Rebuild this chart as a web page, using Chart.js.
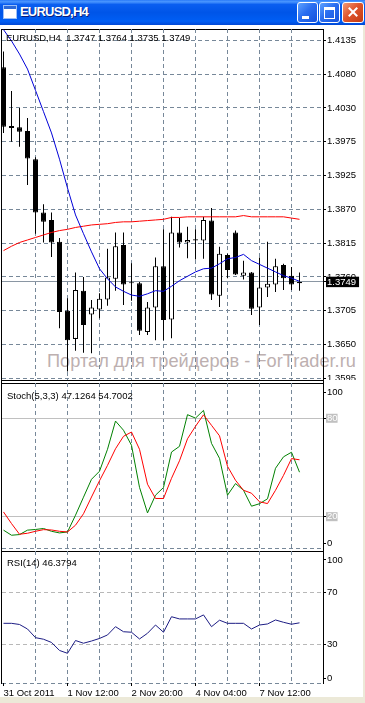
<!DOCTYPE html>
<html>
<head>
<meta charset="utf-8">
<script src="https://cdn.jsdelivr.net/npm/chart.js@4.4.0/dist/chart.umd.min.js"></script>
<style>
  body { margin: 0; width: 365px; height: 703px; background: #ece9d8; position: relative; overflow: hidden; font-family: 'Liberation Sans', Arial, sans-serif; }
  #win { position: absolute; left: 0; top: 25px; width: 363px; height: 672px; background: #fff; }
  #titlebar { position: absolute; left: 0; top: 0; width: 365px; height: 25px;
    background: linear-gradient(to bottom, #2a7af8 0%, #4b97ff 7%, #0a5ef0 18%, #0055e8 50%, #005ef4 85%, #0047d4 100%); }
  #icon { position: absolute; left: 3px; top: 5px; width: 12px; height: 12px; background: #fff; border: 1px solid #9cc0f8; }
  #icon:before { content: ''; position: absolute; left: 0; top: 0; width: 12px; height: 3px; background: #2d6ad8; }
  #wintitle { position: absolute; left: 20px; top: 4px; font: bold 13px 'Liberation Sans', Arial, sans-serif; letter-spacing: -0.8px; color: #fff; text-shadow: 1px 1px 0 #0a1d7c; }
  .btn { position: absolute; top: 2px; width: 19px; height: 19px; border: 1px solid #fff; border-radius: 3px;
    background: linear-gradient(135deg, #5fa2ff 0%, #2a6ef0 45%, #1552dc 100%); }
  #bmin { left: 297px; } #bmax { left: 319px; }
  #bclose { left: 342px; width: 20px; background: linear-gradient(135deg, #f09a78 0%, #e0552c 45%, #c23a12 100%); }
  #bmin i { position: absolute; left: 4px; top: 13px; width: 7px; height: 3px; background: #fff; }
  #bmax i { position: absolute; left: 4px; top: 4px; width: 9px; height: 8px; border: 1px solid #fff; border-top-width: 3px; }
  #bclose i, #bclose b { position: absolute; left: 4px; top: 8px; width: 12px; height: 2px; background: #fff; }
  #bclose i { transform: rotate(45deg); } #bclose b { transform: rotate(-45deg); }
  .ln { position: absolute; background: #000; }
  .dash { position: absolute; height: 1px; background: repeating-linear-gradient(to right, #778899 0 4px, transparent 4px 7px); }
  #wm { position: absolute; left: 47px; top: 351px; font-size: 18.2px; line-height: 20px; color: #bdb0b0; white-space: pre; }
  canvas { position: absolute; left: 0; }
  .lbl { position: absolute; font-size: 9.5px; line-height: 11px; white-space: pre; color: #000; }
</style>
</head>
<body>
<div id="titlebar">
  <div id="icon"></div>
  <div id="wintitle">EURUSD,H4</div>
  <div class="btn" id="bmin"><i></i></div>
  <div class="btn" id="bmax"><i></i></div>
  <div class="btn" id="bclose"><i></i><b></b></div>
</div>
<div id="win"></div>
<div id="wm">Портал для трейдеров - ForTrader.ru</div>

<!-- panel frames -->
<div class="ln" style="left:1px; top:29px; width:1px; height:655px;"></div>
<div class="ln" style="left:323px; top:29px; width:1px; height:655px;"></div>
<div class="ln" style="left:1px; top:29px; width:323px; height:1px;"></div>
<div class="ln" style="left:1px; top:380px; width:323px; height:1px;"></div>
<div class="ln" style="left:1px; top:383px; width:323px; height:1px;"></div>
<div class="dash" style="left:2px; top:548px; width:321px;"></div>
<div class="ln" style="left:1px; top:551px; width:323px; height:1px;"></div>
<div class="dash" style="left:2px; top:683px; width:321px;"></div>

<canvas id="main" width="363" height="351" style="top:29px;"></canvas>
<canvas id="stoch" width="363" height="166" style="top:383px;"></canvas>
<canvas id="rsi" width="363" height="152" style="top:551px;"></canvas>

<div class="lbl" id="mainLbl" style="left:6px; top:32px;"></div>
<div class="lbl" id="stochLbl" style="left:7px; top:390px;"></div>
<div class="lbl" id="rsiLbl" style="left:7px; top:557px;"></div>

<script>
// EURUSD H4, one entry per bar (oldest first)
const opens  = [1.4092, 1.3998, 1.3996, 1.3990, 1.3945, 1.3860, 1.3848, 1.3813, 1.3703, 1.3658,
                1.3735, 1.3697, 1.3705, 1.3721, 1.3754, 1.3808, 1.3748, 1.3747, 1.3669, 1.3708,
                1.3774, 1.3689, 1.3828, 1.3812, 1.3817, 1.3815, 1.3847, 1.3727, 1.3792, 1.3828,
                1.3759, 1.3764, 1.3708, 1.3740, 1.3745, 1.3776, 1.3759, 1.3747];
const highs  = [1.4117, 1.4054, 1.4027, 1.4011, 1.3948, 1.3873, 1.3860, 1.3819, 1.3723, 1.3764,
                1.3757, 1.3720, 1.3731, 1.3802, 1.3828, 1.3828, 1.3779, 1.3749, 1.3717, 1.3788,
                1.3833, 1.3853, 1.3851, 1.3837, 1.3833, 1.3853, 1.3867, 1.3805, 1.3794, 1.3831,
                1.3783, 1.3765, 1.3788, 1.3813, 1.3786, 1.3778, 1.3773, 1.3764];
const lows   = [1.3987, 1.3973, 1.3965, 1.3904, 1.3826, 1.3812, 1.3789, 1.3675, 1.3606, 1.3639,
                1.3636, 1.3635, 1.3691, 1.3711, 1.3735, 1.3712, 1.3719, 1.3664, 1.3664, 1.3656,
                1.3656, 1.3659, 1.3804, 1.3787, 1.3785, 1.3786, 1.3720, 1.3709, 1.3755, 1.3760,
                1.3753, 1.3696, 1.3680, 1.3725, 1.3733, 1.3736, 1.3736, 1.3735];
const closes = [1.3997, 1.3995, 1.3989, 1.3946, 1.3860, 1.3845, 1.3812, 1.3701, 1.3656, 1.3736,
                1.3680, 1.3708, 1.3722, 1.3756, 1.3806, 1.3745, 1.3747, 1.3671, 1.3708, 1.3774,
                1.3688, 1.3828, 1.3812, 1.3816, 1.3815, 1.3848, 1.3729, 1.3794, 1.3768, 1.3761,
                1.3764, 1.3706, 1.3740, 1.3746, 1.3774, 1.3755, 1.3745, 1.3749];
// moving averages (blue fast, red slow)
const maFast = [1.4152, 1.4134, 1.4113, 1.4089, 1.4055, 1.4021, 1.3987, 1.3945, 1.3899, 1.3856,
                1.3826, 1.3797, 1.3770, 1.3754, 1.3741, 1.3734, 1.3728, 1.3726, 1.3730, 1.3735,
                1.3734, 1.3742, 1.3751, 1.3758, 1.3765, 1.3770, 1.3771, 1.3778, 1.3786, 1.3788,
                1.3793, 1.3783, 1.3777, 1.3771, 1.3765, 1.3759, 1.3755, 1.3750];
const maSlow = [1.3799, 1.3806, 1.3812, 1.3816, 1.3820, 1.3824, 1.3828, 1.3831, 1.3833, 1.3836,
                1.3838, 1.3840, 1.3841, 1.3842, 1.3844, 1.3845, 1.3845, 1.3846, 1.3847, 1.3848,
                1.3849, 1.3852, 1.3852, 1.3853, 1.3853, 1.3853, 1.3853, 1.3853, 1.3853, 1.3853,
                1.3855, 1.3853, 1.3853, 1.3853, 1.3853, 1.3853, 1.3851, 1.3849];
// Stochastic(5,3,3): main and signal
const stochMain = [11.8, 8.7, 9.1, 11.8, 12.2, 12.8, 11.1, 10.1, 10.7, 20.9,
                   31.9, 42.8, 47.7, 61.1, 78.3, 72.7, 63.5, 37.9, 22.3, 33.1,
                   37.8, 59.4, 62.9, 82.2, 80.1, 84.8, 64.7, 55.6, 33.1, 40.2,
                   36.1, 26.4, 27.9, 30.9, 49.5, 56.5, 59.3, 47.1264];
const stochSignal = [22.9, 15.8, 9.3, 9.9, 11.1, 12.1, 11.9, 11.1, 10.7, 14.8,
                     21.8, 32.0, 41.9, 51.3, 61.4, 69.0, 71.6, 61.1, 39.8, 31.1,
                     31.1, 43.4, 54.1, 67.5, 75.1, 82.1, 75.7, 69.3, 50.7, 42.2,
                     36.1, 34.3, 29.1, 28.0, 36.1, 45.2, 55.4, 54.7002];
// RSI(14)
const rsi = [46.0, 46.0, 45.1, 41.6, 34.9, 33.7, 31.2, 25.0, 22.8, 32.7,
             30.6, 32.3, 34.3, 37.0, 43.4, 39.5, 39.1, 33.9, 38.3, 44.7,
             39.1, 51.1, 49.4, 49.4, 49.4, 52.5, 43.4, 48.4, 46.0, 46.0,
             46.0, 41.6, 44.7, 45.5, 48.6, 46.8, 45.3, 46.3794];

// axis ticks
const priceGrid   = [1.3595, 1.3649, 1.3703, 1.3757, 1.3811, 1.3865, 1.3919, 1.3973, 1.4027, 1.4081, 1.4135];
const priceLabels = ['1.3595', '1.3650', '1.3705', '1.3760', '1.3815', '1.3870', '1.3925', '1.3975', '1.4030', '1.4080', '1.4135'];
const stochTicks  = [96.0, 80, 20, 3.7];
const stochLabels = ['100', '80', '20', '0'];
const rsiTicks    = [95.0, 70, 30, 3.5];
const rsiLabels   = ['100', '70', '30', '0'];
const gridBars    = [4, 8, 12, 16, 20, 24, 28, 32, 36];
const timeBars    = [0, 8, 16, 24, 32];
const timeLabels  = ['31 Oct 2011', '1 Nov 12:00', '2 Nov 20:00', '4 Nov 04:00', '7 Nov 12:00'];

const last = opens.length - 1;
const lastClose = closes[last];

document.getElementById('mainLbl').textContent =
  'EURUSD,H4  ' + [opens[last], highs[last], lows[last], closes[last]].map(v => v.toFixed(4)).join(' ');
document.getElementById('stochLbl').textContent =
  'Stoch(5,3,3) ' + stochMain[last].toFixed(4) + ' ' + stochSignal[last].toFixed(4);
document.getElementById('rsiLbl').textContent = 'RSI(14) ' + rsi[last].toFixed(4);

Chart.defaults.font.family = "'Liberation Sans', Arial, sans-serif";
Chart.defaults.font.size = 9.5;
Chart.defaults.color = '#000';

const GRID = '#778899';
const DASH = [4, 3];
const NONE = 'rgba(0,0,0,0)';
const xMin = -0.1875, xMax = 39.9375;

const pts = arr => arr.map((v, i) => ({ x: i, y: v }));

function fixY(s) { s.width = 40; s.paddingTop = 0; s.paddingBottom = 0; }

function hiddenX() {
  return {
    type: 'linear', min: xMin, max: xMax, offset: false, bounds: 'data',
    afterBuildTicks: s => { s.ticks = gridBars.map(v => ({ value: v })); },
    afterFit: s => { s.height = 0; s.paddingLeft = 0; s.paddingRight = 0; },
    grid: { color: GRID, offset: false, drawTicks: false },
    border: { display: false, dash: DASH },
    ticks: { display: false }
  };
}

const baseOpts = {
  responsive: false,
  animation: false,
  events: [],
  layout: { padding: { left: 2, right: 0, top: 0, bottom: 0 } },
  plugins: { legend: { display: false }, tooltip: { enabled: false } }
};

function lineSet(data, color, order) {
  return { type: 'line', data: pts(data), borderColor: color, borderWidth: 1, pointRadius: 0, tension: 0, order: order };
}

// price panel
const isLast = c => !!(c.tick && c.index === priceGrid.length);
new Chart(document.getElementById('main'), {
  type: 'bar',
  data: {
    datasets: [
      lineSet(maFast, '#0000d8', 0),
      lineSet(maSlow, '#ff0000', 0),
      {
        label: 'wick', data: lows.map((l, i) => ({ x: i, y: [l, highs[i]] })),
        backgroundColor: '#000', barThickness: 1, grouped: false, order: 2, inflateAmount: 0
      },
      {
        label: 'body', data: opens.map((o, i) => ({ x: i, y: [o, closes[i]] })),
        backgroundColor: opens.map((o, i) => closes[i] > o ? '#fff' : '#000'),
        borderColor: '#000', borderWidth: 1, borderSkipped: false, minBarLength: 1,
        barThickness: 5, grouped: false, order: 1, inflateAmount: 0
      }
    ]
  },
  options: Object.assign({}, baseOpts, {
    scales: {
      x: hiddenX(),
      y: {
        type: 'linear', position: 'right', min: 1.35923, max: 1.415305, bounds: 'data',
        afterBuildTicks: s => { s.ticks = priceGrid.map(v => ({ value: v })).concat([{ value: lastClose }]); },
        afterFit: fixY,
        grid: { color: c => isLast(c) ? '#8a96a3' : GRID, tickColor: '#000', tickLength: 3, drawTicks: true },
        border: { display: true, color: '#000', dash: c => isLast(c) ? [] : DASH },
        ticks: {
          autoSkip: false, padding: 1,
          font: { size: 9.5, lineHeight: 1.1 },
          color: c => isLast(c) ? '#fff' : '#000',
          showLabelBackdrop: c => isLast(c),
          backdropColor: '#000',
          backdropPadding: { left: 1, right: 3, top: 0, bottom: 0 },
          callback: (v, i) => i < priceLabels.length ? priceLabels[i] : v.toFixed(4)
        }
      }
    }
  })
});

// stochastic panel
new Chart(document.getElementById('stoch'), {
  type: 'line',
  data: { datasets: [lineSet(stochMain, '#008000', 1), lineSet(stochSignal, '#ff0000', 0)] },
  options: Object.assign({}, baseOpts, {
    scales: {
      x: hiddenX(),
      y: {
        type: 'linear', position: 'right', min: 0.3, max: 101.5, bounds: 'data',
        afterBuildTicks: s => { s.ticks = stochTicks.map(v => ({ value: v })); },
        afterFit: fixY,
        grid: { color: c => (c.index === 1 || c.index === 2) ? '#c0c0c0' : NONE, tickColor: '#000', tickLength: 3 },
        border: { display: true, color: '#000' },
        ticks: {
          autoSkip: false, padding: 1,
          font: { size: 9.5, lineHeight: 0.95 },
          color: c => (c.index === 1 || c.index === 2) ? '#fff' : '#000',
          showLabelBackdrop: c => c.index === 1 || c.index === 2,
          backdropColor: '#c0c0c0',
          backdropPadding: { left: 1, right: 0, top: 0, bottom: 0 },
          callback: (v, i) => stochLabels[i]
        }
      }
    }
  })
});

// RSI panel with the time axis
new Chart(document.getElementById('rsi'), {
  type: 'line',
  data: { datasets: [lineSet(rsi, '#1c1c84', 0)] },
  options: Object.assign({}, baseOpts, {
    scales: {
      x: {
        type: 'linear', min: xMin, max: xMax, offset: false, bounds: 'data', position: 'bottom',
        afterBuildTicks: s => { s.ticks = [0].concat(gridBars).map(v => ({ value: v })); },
        afterFit: s => { s.height = 20; s.paddingLeft = 0; s.paddingRight = 0; },
        grid: {
          color: c => (c.tick && c.tick.value === 0) ? NONE : GRID,
          tickColor: c => (c.tick && timeBars.includes(c.tick.value)) ? '#000' : NONE,
          tickLength: 3, drawTicks: true, offset: false
        },
        border: { display: false, dash: DASH },
        ticks: {
          autoSkip: false, maxRotation: 0, minRotation: 0, align: 'start', padding: 2,
          callback: v => { const k = timeBars.indexOf(v); return k >= 0 ? timeLabels[k] : ''; }
        }
      },
      y: {
        type: 'linear', position: 'right', min: -0.17, max: 101.95, bounds: 'data',
        afterBuildTicks: s => { s.ticks = rsiTicks.map(v => ({ value: v })); },
        afterFit: fixY,
        grid: { color: c => (c.index === 1 || c.index === 2) ? '#b8b8b8' : NONE, tickColor: '#000', tickLength: 3 },
        border: { display: true, color: '#000', dash: DASH },
        ticks: { autoSkip: false, padding: 1, callback: (v, i) => rsiLabels[i] }
      }
    }
  })
});
</script>
</body>
</html>
